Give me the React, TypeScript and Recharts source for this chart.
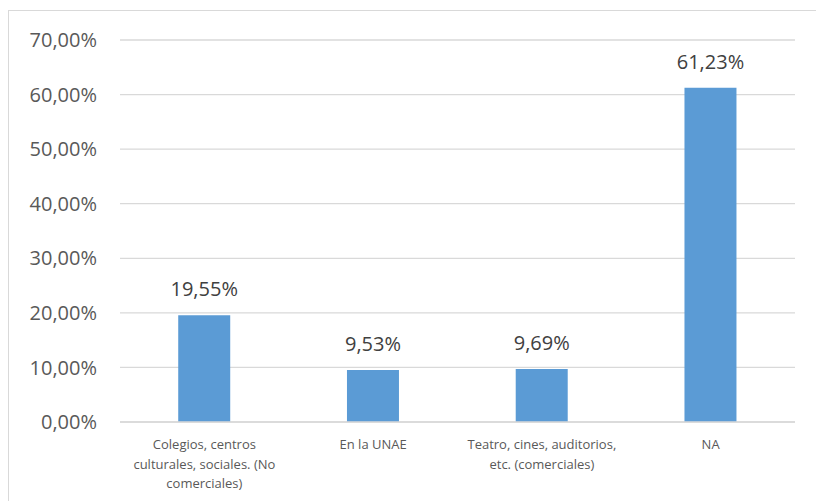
import { BarChart, Bar, XAxis, YAxis, CartesianGrid, LabelList } from "recharts";

const categories = [
	"Colegios, centros\nculturales, sociales. (No\ncomerciales)",
	"En la UNAE",
	"Teatro, cines, auditorios,\netc. (comerciales)",
	"NA",
];
const values = [19.55, 9.53, 9.69, 61.23];
const yTicks = [0, 10, 20, 30, 40, 50, 60, 70];

const data = categories.map((name, i) => ({ name, value: values[i] }));

const FONT = "'Open Sans', sans-serif";
const GRID = "#d9d9d9";

function pct(v: number) {
	return `${v.toFixed(2).replace(".", ",")}%`;
}

function CategoryTick(props: any) {
	const { x, y, payload } = props;
	const lines = String(payload.value).split("\n");
	return (
		<text x={x} y={y} textAnchor="middle" fill="#595959" fontSize={13} fontFamily={FONT}>
			{lines.map((line, i) => (
				<tspan key={i} x={x} dy={i === 0 ? 19 : 19.5}>
					{line}
				</tspan>
			))}
		</text>
	);
}

export default function App() {
	return (
		<div style={{ position: "absolute", left: 0, top: 0, width: 816, height: 501, background: "#fff", overflow: "hidden" }}>
			<div
				style={{
					position: "absolute",
					left: 8,
					top: 10,
					width: 830,
					height: 520,
					border: `1px solid ${GRID}`,
				}}
			/>
			<BarChart
				width={816}
				height={501}
				data={data}
				margin={{ top: 40, right: 21, bottom: 0, left: 0 }}
				barCategoryGap="34.5%"
				style={{ position: "absolute", left: 0, top: 0 }}
			>
				<CartesianGrid vertical={false} stroke={GRID} strokeWidth={1.3} />
				<XAxis
					dataKey="name"
					interval={0}
					height={79}
					tickLine={false}
					axisLine={{ stroke: GRID, strokeWidth: 1.3 }}
					tick={<CategoryTick />}
				/>
				<YAxis
					domain={[0, 70]}
					ticks={yTicks}
					width={120}
					axisLine={false}
					tickLine={false}
					tickMargin={17}
					tickFormatter={pct}
					tick={{ fill: "#595959", fontSize: 20, fontFamily: FONT }}
				/>
				<Bar dataKey="value" fill="#5b9bd5" isAnimationActive={false}>
					<LabelList
						dataKey="value"
						position="top"
						offset={19}
						formatter={(v: any) => pct(Number(v))}
						fill="#404040"
						fontSize={20}
						fontFamily={FONT}
					/>
				</Bar>
			</BarChart>
		</div>
	);
}
